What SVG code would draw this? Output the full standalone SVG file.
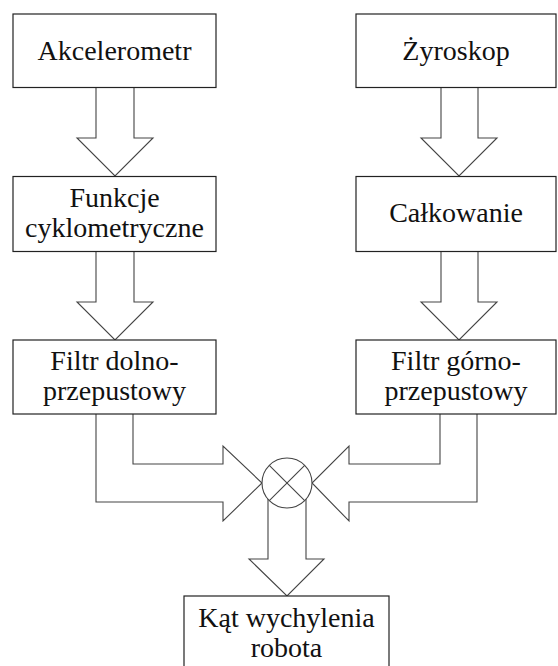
<svg xmlns="http://www.w3.org/2000/svg" width="558" height="666" viewBox="0 0 558 666">
<style>
.box{fill:#fff;stroke:#222;stroke-width:1.2}
.t{font-family:'Liberation Serif','Times New Roman',serif;font-size:28px;fill:#111;text-anchor:middle}
.c{fill:#fff;stroke:#444;stroke-width:1.1;stroke-linejoin:miter}
</style>
<rect width="558" height="666" fill="#fff"/>
<g id="connectors">
<polygon class="c" points="96,87.5 134,87.5 134,138 153,138 115,176 77,138 96,138"/>
<polygon class="c" points="96,251.5 134,251.5 134,302 153,302 115,340 77,302 96,302"/>
<polygon class="c" points="441,87.5 478,87.5 478,138 497,138 459,176 421,138 441,138"/>
<polygon class="c" points="441,251.5 478,251.5 478,302 497,302 459,340 421,302 441,302"/>
<polyline class="c" fill="none" points="96,414 96,502 223,502 223,521 262,483 223,446 223,464 133,464 133,414"/>
<polyline class="c" fill="none" points="477,414 477,502 349,502 349,521 312,483 349,446 349,464 440,464 440,414"/>
<polyline class="c" fill="none" points="268,499 268,559 249,559 287,596 324,559 306,559 306,499"/>
</g>
<g id="mixer">
<circle cx="287" cy="483" r="25" fill="#fff" stroke="#444" stroke-width="1.1"/>
<line x1="269.3" y1="465.3" x2="304.7" y2="500.7" stroke="#444" stroke-width="1.1"/>
<line x1="269.3" y1="500.7" x2="304.7" y2="465.3" stroke="#444" stroke-width="1.1"/>
</g>
<g id="akcelerometr">
<rect class="box" x="13" y="14" width="203" height="73.5"/>
<text class="t" x="114.5" y="60">Akcelerometr</text>
</g>
<g id="zyroskop">
<rect class="box" x="356" y="14" width="200" height="73.5"/>
<text class="t" x="456" y="60">Żyroskop</text>
</g>
<g id="funkcje">
<rect class="box" x="13" y="176.5" width="203" height="75"/>
<text class="t" x="114.5" y="207">Funkcje</text>
<text class="t" x="114.5" y="237">cyklometryczne</text>
</g>
<g id="calkowanie">
<rect class="box" x="356" y="176.5" width="200" height="75"/>
<text class="t" x="456" y="222">Całkowanie</text>
</g>
<g id="filtr-dolno">
<rect class="box" x="13" y="340" width="203" height="74"/>
<text class="t" x="114.5" y="370">Filtr dolno-</text>
<text class="t" x="114.5" y="400">przepustowy</text>
</g>
<g id="filtr-gorno">
<rect class="box" x="356" y="340" width="200" height="74"/>
<text class="t" x="456" y="370">Filtr górno-</text>
<text class="t" x="456" y="400">przepustowy</text>
</g>
<g id="kat">
<rect class="box" x="184" y="596" width="205" height="80"/>
<text class="t" x="286.5" y="627">Kąt wychylenia</text>
<text class="t" x="286.5" y="657">robota</text>
</g>
</svg>
